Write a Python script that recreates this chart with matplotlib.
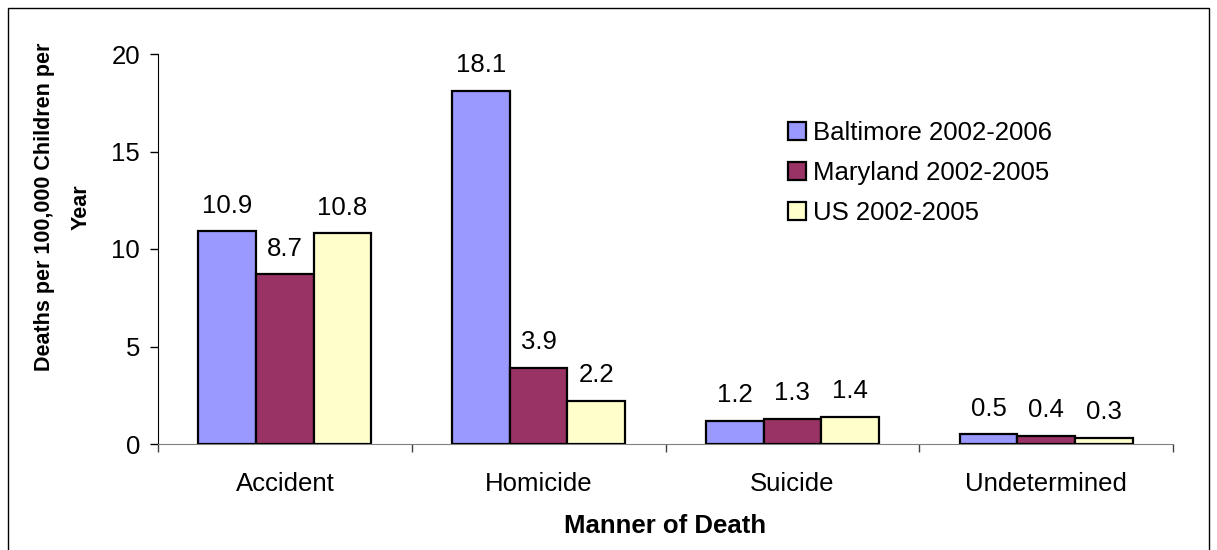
import matplotlib.pyplot as plt
import numpy as np
from matplotlib.patches import Rectangle

plt.rcParams["font.family"] = ["Liberation Sans", "DejaVu Sans"]

categories = ["Accident", "Homicide", "Suicide", "Undetermined"]
series = ["Baltimore 2002-2006", "Maryland 2002-2005", "US 2002-2005"]
baltimore = [10.9, 18.1, 1.2, 0.5]
maryland = [8.7, 3.9, 1.3, 0.4]
us = [10.8, 2.2, 1.4, 0.3]
colors = ["#9999FF", "#993366", "#FFFFCC"]

FS = 18.5
W, H = 1217, 550
fig = plt.figure(figsize=(W / 100, H / 100), dpi=100)
ax = fig.add_axes([158 / W, 1 - 444 / H, (1173 - 158) / W, (444 - 54) / H])

x = np.arange(len(categories))
bw = 0.227
for i, (vals, lab, col) in enumerate(zip([baltimore, maryland, us], series, colors)):
    bars = ax.bar(x + (i - 1) * bw, vals, bw, color=col, edgecolor="black",
                  linewidth=1.6, label=lab, zorder=3)
    for b, v in zip(bars, vals):
        ax.annotate(f"{v:.1f}", (b.get_x() + b.get_width() / 2, v),
                    xytext=(0, 13.5), textcoords="offset points",
                    ha="center", va="baseline", fontsize=FS)

ax.set_xlim(-0.5, len(categories) - 0.5)
ax.set_ylim(0, 20)
ax.set_yticks([0, 5, 10, 15, 20])
ax.tick_params(axis="y", labelsize=FS, length=6, width=1, pad=7, direction="out")
ax.set_xticks(x)
ax.set_xticklabels(categories)
ax.tick_params(axis="x", which="major", length=0, labelsize=FS, pad=20)
ax.set_xticks(np.arange(-0.5, len(categories)), minor=True)
ax.tick_params(axis="x", which="minor", length=6, width=1, color="#404040")

for s in ["top", "right"]:
    ax.spines[s].set_visible(False)
ax.spines["left"].set_color("black")
ax.spines["bottom"].set_color("#808080")

ax.set_xlabel("Manner of Death", fontsize=FS, fontweight="bold", labelpad=13)
fig.text(63 / W, 1 - 207 / H, "Deaths per 100,000 Children per\nYear",
         rotation=90, ha="center", va="center", multialignment="center",
         fontsize=15.5, fontweight="bold", linespacing=1.95)

ax.legend(loc="upper left",
          bbox_to_anchor=(788 / W, 1 - 121 / H), bbox_transform=fig.transFigure,
          frameon=False, fontsize=FS, handlelength=0.7, handleheight=0.7,
          handletextpad=0.27, labelspacing=0.62, borderaxespad=0, borderpad=0)

fig.patches.append(Rectangle((8 / W, -0.1), (1209 - 8) / W, 1.1 - 8 / H,
                             transform=fig.transFigure, fill=False,
                             edgecolor="black", linewidth=1))

fig.savefig("out.png", dpi=100)
